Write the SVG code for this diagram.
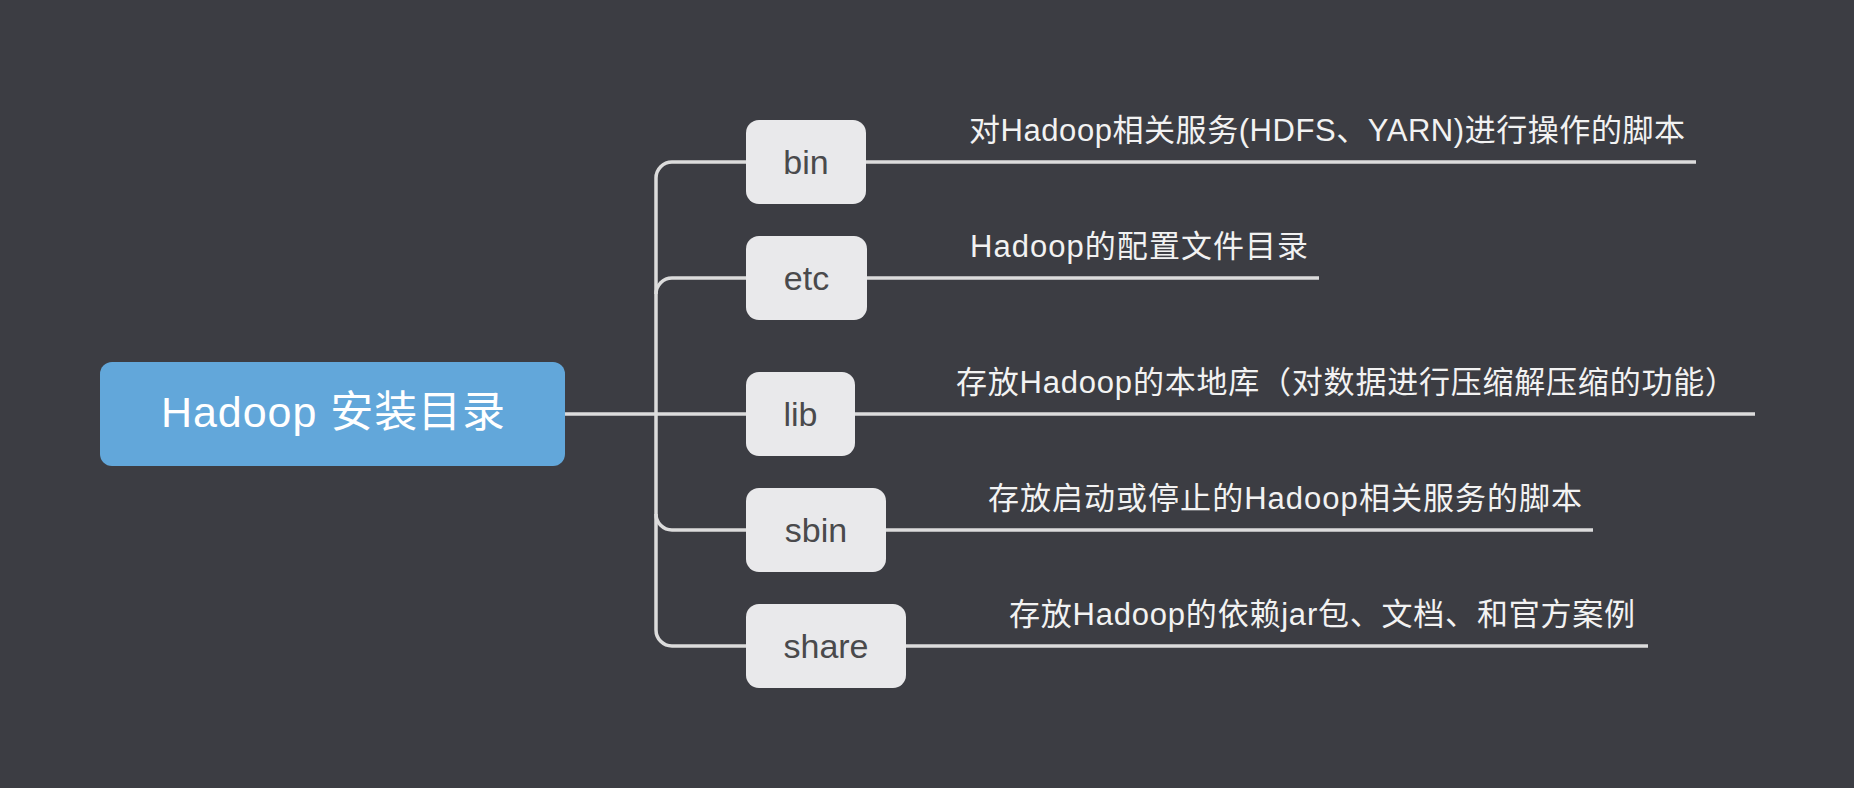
<svg xmlns="http://www.w3.org/2000/svg" width="1854" height="788" viewBox="0 0 1854 788">
<style>
.bg{fill:#3c3d43}
.conn{fill:none;stroke:#dcdcdc;stroke-width:3.5;stroke-linecap:butt}
.root{fill:#62a7da}
.rootText{font-family:"Liberation Sans","Noto Sans CJK SC",sans-serif;font-size:43px;fill:#ffffff}
.box{fill:#e9e9eb}
.boxText{font-family:"Liberation Sans","Noto Sans CJK SC",sans-serif;font-size:34px;fill:#4a4a4c;text-anchor:middle}
.desc{font-family:"Liberation Sans","Noto Sans CJK SC",sans-serif;font-size:31px;fill:#f2f2f2}
</style>
<rect class="bg" x="0" y="0" width="1854" height="788"/>
<g id="connectors">
<path class="conn" d="M565,414 H746"/>
<path class="conn" d="M746,162 H672 A16,16 0 0 0 656,178 V630 A16,16 0 0 0 672,646 H746"/>
<path class="conn" d="M656,294 A16,16 0 0 1 672,278 H746"/>
<path class="conn" d="M656,514 A16,16 0 0 0 672,530 H746"/>
<path class="conn" d="M866,162 H1696"/>
<path class="conn" d="M867,278 H1319"/>
<path class="conn" d="M855,414 H1755"/>
<path class="conn" d="M886,530 H1593"/>
<path class="conn" d="M906,646 H1648"/>
</g>
<g id="root">
<rect class="root" x="100" y="362" width="465" height="104" rx="12"/>
<text class="rootText" x="161" y="427" textLength="344" lengthAdjust="spacing">Hadoop 安装目录</text>
</g>
<g id="node-bin">
<rect class="box" x="746" y="120" width="120" height="84" rx="13"/>
<text class="boxText" x="806" y="174">bin</text>
<text class="desc" x="969" y="141" textLength="716" lengthAdjust="spacing">对Hadoop相关服务(HDFS、YARN)进行操作的脚本</text>
</g>
<g id="node-etc">
<rect class="box" x="746" y="236" width="121" height="84" rx="13"/>
<text class="boxText" x="806.5" y="290">etc</text>
<text class="desc" x="970" y="257" textLength="338" lengthAdjust="spacing">Hadoop的配置文件目录</text>
</g>
<g id="node-lib">
<rect class="box" x="746" y="372" width="109" height="84" rx="13"/>
<text class="boxText" x="800.5" y="426">lib</text>
<text class="desc" x="956" y="393" textLength="780" lengthAdjust="spacing">存放Hadoop的本地库（对数据进行压缩解压缩的功能）</text>
</g>
<g id="node-sbin">
<rect class="box" x="746" y="488" width="140" height="84" rx="13"/>
<text class="boxText" x="816" y="542">sbin</text>
<text class="desc" x="988" y="509" textLength="594" lengthAdjust="spacing">存放启动或停止的Hadoop相关服务的脚本</text>
</g>
<g id="node-share">
<rect class="box" x="746" y="604" width="160" height="84" rx="13"/>
<text class="boxText" x="826" y="658">share</text>
<text class="desc" x="1009" y="625" textLength="626" lengthAdjust="spacing">存放Hadoop的依赖jar包、文档、和官方案例</text>
</g>
</svg>
